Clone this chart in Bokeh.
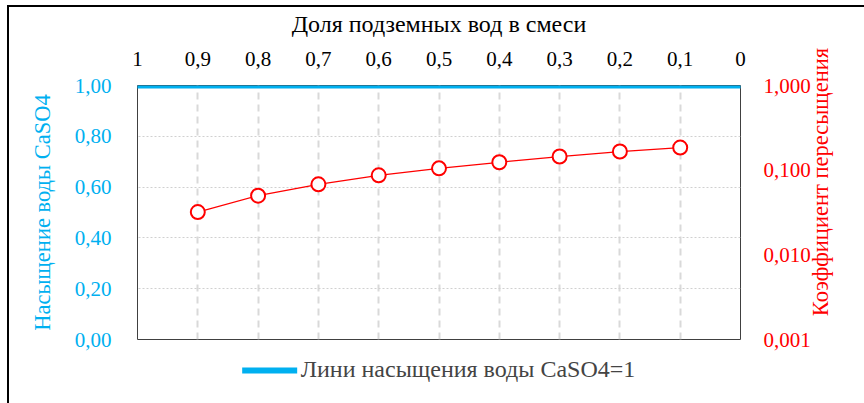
import math
from bokeh.plotting import figure
from bokeh.models import (Range1d, LogAxis, LogScale, FixedTicker, Legend, LegendItem, Label)
from bokeh.embed import file_html
from bokeh.resources import INLINE

# ---- data ----
share = [0.9, 0.8, 0.7, 0.6, 0.5, 0.4, 0.3, 0.2, 0.1]
supersat = [0.032, 0.050, 0.068, 0.087, 0.105, 0.124, 0.145, 0.166, 0.185]
sat_x = [1.0, 0.0]
sat_y = [1.0, 1.0]

x_ticks = [1.0, 0.9, 0.8, 0.7, 0.6, 0.5, 0.4, 0.3, 0.2, 0.1, 0.0]
x_labels = ["1", "0,9", "0,8", "0,7", "0,6", "0,5", "0,4", "0,3", "0,2", "0,1", "0"]
left_ticks = [0.0, 0.2, 0.4, 0.6, 0.8, 1.0]
left_labels = ["0,00", "0,20", "0,40", "0,60", "0,80", "1,00"]
right_ticks = [0.001, 0.01, 0.1, 1.0]
right_labels = ["0,001", "0,010", "0,100", "1,000"]

FONT = "Liberation Serif"
BLUE = "#00B0F0"
RED = "#FF0000"
TICK_FS = "21px"
TITLE_FS = "24px"
SIDE_FS = "22.5px"

p = figure(frame_width=603, frame_height=254, x_range=Range1d(1.0, 0.0), y_range=Range1d(0.0, 1.0),
           x_axis_location="above", output_backend="svg", toolbar_location=None,
           min_border_left=128, min_border_right=124, min_border_top=77, min_border_bottom=58)
p.extra_y_ranges = {"log": Range1d(0.001, 1.0)}
p.extra_y_scales = {"log": LogScale()}
p.styles = {"margin-left": "7px", "margin-top": "5px",
            "border-left": "2px solid black", "border-top": "2px solid black"}

p.outline_line_color = "#404040"
p.outline_line_width = 1
p.background_fill_color = "white"
p.border_fill_color = "white"

# top x axis
xa = p.xaxis[0]
xa.ticker = FixedTicker(ticks=x_ticks)
xa.major_label_overrides = dict(zip(x_ticks, x_labels))
xa.axis_label = "Доля подземных вод в смеси"

# left axis
ya = p.yaxis[0]
ya.ticker = FixedTicker(ticks=left_ticks)
ya.major_label_overrides = dict(zip(left_ticks, left_labels))
ya.axis_label = "Насыщение воды CaSO4"

# right log axis
ra = LogAxis(y_range_name="log", ticker=FixedTicker(ticks=right_ticks),
             major_label_overrides=dict(zip(right_ticks, right_labels)))
p.add_layout(ra, "right")

for ax, col in [(xa, "black"), (ya, BLUE), (ra, RED)]:
    ax.axis_line_color = None
    ax.major_tick_line_color = None
    ax.minor_tick_line_color = None
    ax.major_label_text_font = FONT
    ax.major_label_text_font_size = TICK_FS
    ax.major_label_text_color = col
    ax.axis_label_text_font = FONT
    ax.axis_label_text_font_size = TITLE_FS
    ax.axis_label_text_font_style = "normal"
    ax.axis_label_text_color = col

ya.axis_label_text_font_size = SIDE_FS

xa.major_label_standoff = 14
xa.axis_label_standoff = 12
ya.major_label_standoff = 20
ya.axis_label_standoff = 17
ra.major_label_standoff = 17

# right title (reads bottom to top)
rtitle = Label(text="Коэффициент пересыщения", x=-0.133, y=0.62,
               angle=math.pi / 2, text_align="center", text_baseline="middle",
               text_font=FONT, text_font_size=SIDE_FS, text_color=RED)
p.add_layout(rtitle, "right")

# grids
p.xgrid.ticker = FixedTicker(ticks=x_ticks[1:-1])
p.xgrid.grid_line_color = "#D9D9D9"
p.xgrid.grid_line_width = 2
p.xgrid.grid_line_dash = "7 5"
p.ygrid.ticker = FixedTicker(ticks=left_ticks[1:-1])
p.ygrid.grid_line_color = "#D0D0D0"
p.ygrid.grid_line_width = 1
p.ygrid.grid_line_dash = "2 2"

# series
sat = p.line(sat_x, sat_y, line_color=BLUE, line_width=6, line_cap="round")
p.line(share, supersat, y_range_name="log", line_color=RED, line_width=1.25)
p.scatter(share, supersat, y_range_name="log", size=14, fill_color="white",
          line_color=RED, line_width=2)

legend = Legend(items=[LegendItem(label="Лини насыщения воды CaSO4=1", renderers=[sat])],
                location="top_center", orientation="horizontal",
                border_line_color=None, background_fill_alpha=0,
                label_text_font=FONT, label_text_font_size=TITLE_FS,
                glyph_width=55, glyph_height=22, label_standoff=4, padding=0, margin=17)
p.add_layout(legend, "below")

open("out.html", "w").write(file_html(p, INLINE))
